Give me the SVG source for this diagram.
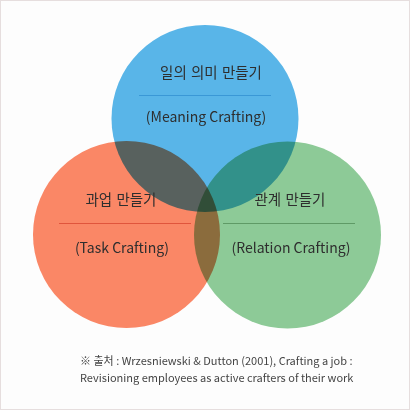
<svg xmlns="http://www.w3.org/2000/svg" width="410" height="410" viewBox="0 0 410 410">
<style>
.c{mix-blend-mode:multiply}
.t{font-family:"Noto Sans CJK KR","Noto Sans",sans-serif;font-size:14px;fill:#2e2e2e;text-anchor:middle}
.k{font-size:14.5px;word-spacing:1px}
.f{font-family:"Noto Sans CJK KR","Noto Sans",sans-serif;font-size:11px;fill:#444}
</style>
<rect x="0.5" y="0.5" width="409" height="409" fill="#fdfdfd" stroke="#e6dede"/>
<g id="circles">
<circle id="meaning-circle" class="c" cx="205" cy="118.5" r="93.5" fill="#5ab7ea"/>
<circle id="task-circle" class="c" cx="126.5" cy="234.5" r="93.5" fill="#fc8867"/>
<circle id="relation-circle" class="c" cx="287.5" cy="235" r="93.5" fill="#8ecc98"/>
</g>
<g id="meaning">
<text class="t k" x="211" y="78">일의 의미 만들기</text>
<line x1="139" y1="95.5" x2="271" y2="95.5" stroke="#3a98d6" stroke-width="1"/>
<text class="t" x="206" y="122">(Meaning Crafting)</text>
</g>
<g id="task">
<text class="t k" x="121" y="205">과업 만들기</text>
<line x1="59" y1="223.5" x2="191" y2="223.5" stroke="#e0553c" stroke-width="1"/>
<text class="t" x="122" y="253">(Task Crafting)</text>
</g>
<g id="relation">
<text class="t k" x="290" y="205">관계 만들기</text>
<line x1="223" y1="223.5" x2="355" y2="223.5" stroke="#5f9a66" stroke-width="1"/>
<text class="t" x="291" y="253">(Relation Crafting)</text>
</g>
<g id="source">
<text class="f" x="80" y="365">※ 출처 : Wrzesniewski &amp; Dutton (2001), Crafting a job :</text>
<text class="f" x="80" y="382">Revisioning employees as active crafters of their work</text>
</g>
</svg>
